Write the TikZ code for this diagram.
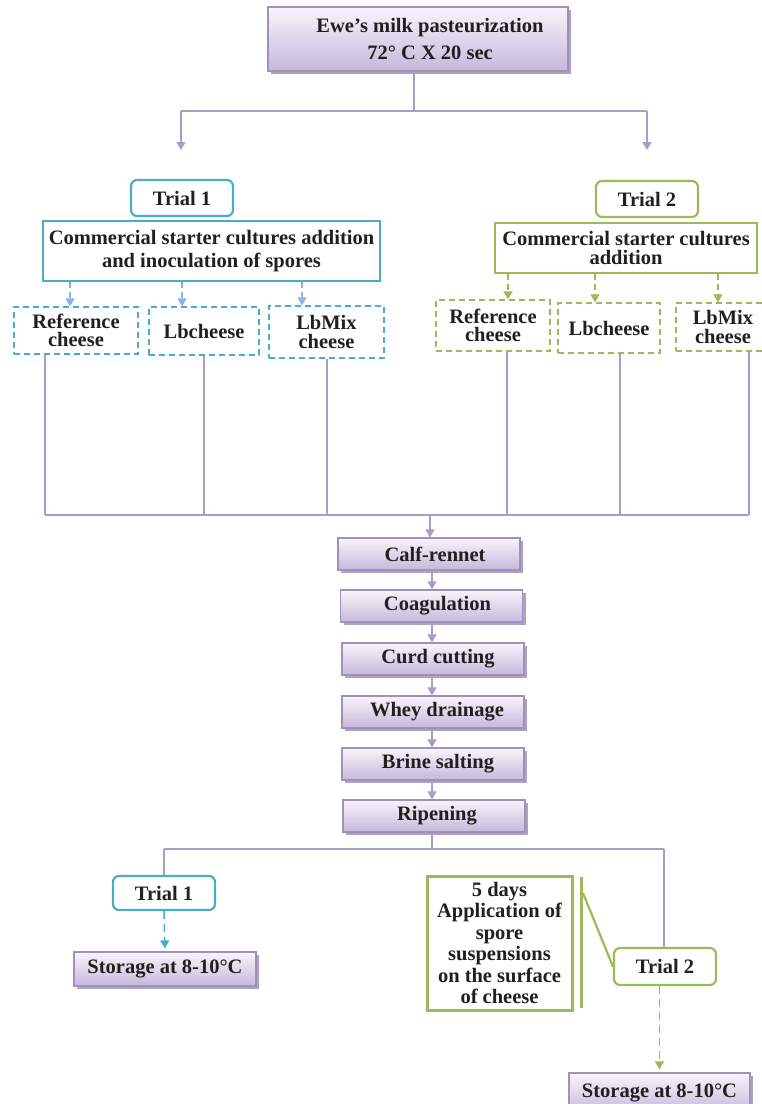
\documentclass[tikz,border=0pt]{standalone}
\usepackage{fontspec}
\setmainfont{Liberation Serif}
\usetikzlibrary{arrows.meta,shadows}
\definecolor{conn}{HTML}{A99CC6}
\definecolor{pborder}{HTML}{9E91BA}
\definecolor{ptop}{HTML}{F8F5FB}
\definecolor{pbot}{HTML}{C6B8DB}
\definecolor{pshadow}{HTML}{ADA3BE}
\definecolor{trteal}{HTML}{4BACC6}
\definecolor{lblue}{HTML}{8EB4E3}
\definecolor{grn}{HTML}{9BBB59}
\definecolor{txt}{HTML}{231F20}
\tikzset{
  fnt/.style={font=\fontsize{20.5}{23}\selectfont\bfseries, text=txt},
  procbox/.style={fnt, draw=pborder, line width=1.2pt, top color=ptop, bottom color=pbot,
    drop shadow={shadow xshift=3pt,shadow yshift=-3pt,fill=pshadow,opacity=1},
    minimum width=182, minimum height=32, inner sep=0, align=center},
  trialA/.style={fnt, draw=trteal, line width=2.2pt, rounded corners=6pt, fill=white,
    minimum width=102, minimum height=36, inner sep=0},
  trialB/.style={trialA, draw=grn},
  cboxA/.style={fnt, draw=trteal, line width=1.2pt, fill=white, align=center, inner sep=0},
  cboxB/.style={cboxA, draw=grn},
  dboxA/.style={fnt, font=\fontsize{20.5}{18.5}\selectfont\bfseries, draw=trteal, dash pattern=on 6pt off 4pt,
    line width=1.3pt, align=center, inner sep=0},
  dboxB/.style={dboxA, draw=grn},
  cline/.style={draw=conn, line width=1.5pt},
  carrow/.style={cline, -{Triangle[width=9pt,length=8pt]}},
  darrA/.style={draw=lblue, line width=1.5pt, dash pattern=on 6pt off 4pt, -{Triangle[width=9pt,length=8pt]}},
  darrT/.style={darrA, draw=trteal, dash pattern=on 8pt off 5pt},
  darrB/.style={darrA, draw=grn},
  darrBB/.style={darrB, dash pattern=on 8pt off 5pt},
}
\begin{document}
\begin{tikzpicture}[x=1pt,y=-1pt]
\useasboundingbox (0,0) rectangle (762,1104);

% top
\node[procbox, font=\fontsize{20.5}{27.5}\selectfont\bfseries, minimum width=300, minimum height=64] (milk) at (418,39)
  {\hspace*{24pt}Ewe's milk pasteurization\\ \hspace*{24pt}72° C X 20 sec};
\coordinate (j0) at (414,111);
\coordinate (jl) at (181,111);
\coordinate (jr) at (647,111);
\coordinate (el) at (181,150);
\coordinate (er) at (647,150);
\draw[cline] (milk.south -| j0) -- (j0);
\draw[cline] (jl) -- (jr);
\draw[carrow] (jl) -- (el);
\draw[carrow] (jr) -- (er);

% trial 1 branch
\node[trialA] (t1) at (182,198) {Trial 1};
\node[cboxA, minimum width=337, minimum height=60] (c1) at (211.5,251)
  {Commercial starter cultures addition\\and inoculation of spores};
\node[dboxA, minimum width=124, minimum height=47] (d11) at (76,330.5) {Reference\\cheese};
\node[dboxA, minimum width=110, minimum height=48] (d12) at (204,331) {Lbcheese};
\node[dboxA, minimum width=115, minimum height=52] (d13) at (326.5,332) {LbMix\\cheese};
\coordinate (x11) at (70,0);
\coordinate (x12) at (182,0);
\coordinate (x13) at (302,0);
\draw[darrA] (c1.south -| x11) -- (d11.north -| x11);
\draw[darrA] (c1.south -| x12) -- (d12.north -| x12);
\draw[darrA] (c1.south -| x13) -- (d13.north -| x13);
\fill[trteal] (c1.south -| x11) circle (1.8pt) (c1.south -| x12) circle (1.8pt) (c1.south -| x13) circle (1.8pt);

% trial 2 branch
\node[trialB] (t2) at (647,199) {Trial 2};
\node[cboxB, font=\fontsize{20.5}{19}\selectfont\bfseries, minimum width=262, minimum height=50] (c2) at (626,248)
  {Commercial starter cultures\\addition};
\node[dboxB, minimum width=114, minimum height=51] (d21) at (493,325.5) {Reference\\cheese};
\node[dboxB, minimum width=102, minimum height=50] (d22) at (609,328) {Lbcheese};
\node[dboxB, minimum width=94, minimum height=48] (d23) at (723,327) {LbMix\\cheese};
\coordinate (x21) at (508,0);
\coordinate (x22) at (595,0);
\coordinate (x23) at (718,0);
\draw[darrB] (c2.south -| x21) -- (d21.north -| x21);
\draw[darrB] (c2.south -| x22) -- (d22.north -| x22);
\draw[darrB] (c2.south -| x23) -- (d23.north -| x23);

% collector
\coordinate (b1) at (45,515);
\coordinate (b2) at (204,515);
\coordinate (b3) at (327,515);
\coordinate (b4) at (507,515);
\coordinate (b5) at (620,515);
\coordinate (b6) at (749,515);
\coordinate (bm) at (430,515);
\draw[cline] (d11.south -| b1) -- (b1);
\draw[cline] (d12.south -| b2) -- (b2);
\draw[cline] (d13.south -| b3) -- (b3);
\draw[cline] (d21.south -| b4) -- (b4);
\draw[cline] (d22.south -| b5) -- (b5);
\draw[cline] (d23.south -| b6) -- (b6);
\draw[cline] (b1) -- (b6);

% process chain
\node[procbox] (calf) at (429,554) {\hspace*{12pt}Calf-rennet};
\node[procbox] (coag) at (431.5,606) {\hspace*{12pt}Coagulation};
\node[procbox] (curd) at (433,659) {\hspace*{10pt}Curd cutting};
\node[procbox] (whey) at (433,712) {\hspace*{8pt}Whey drainage};
\node[procbox] (brine) at (433,764) {\hspace*{10pt}Brine salting};
\node[procbox] (ripe) at (434,816) {\hspace*{6pt}Ripening};
\coordinate (cx) at (432,0);
\draw[carrow] (bm) -- (calf.north -| bm);
\draw[carrow] (calf.south -| cx) -- (coag.north -| cx);
\draw[carrow] (coag.south -| cx) -- (curd.north -| cx);
\draw[carrow] (curd.south -| cx) -- (whey.north -| cx);
\draw[carrow] (whey.south -| cx) -- (brine.north -| cx);
\draw[carrow] (brine.south -| cx) -- (ripe.north -| cx);

% after ripening
\coordinate (r0) at (432,849);
\coordinate (rl) at (164,849);
\coordinate (rr) at (664,849);
\node[trialA, minimum height=34] (t1b) at (164,893) {Trial 1};
\node[trialB, minimum height=37] (t2b) at (665,966.5) {Trial 2};
\draw[cline] (ripe.south -| r0) -- (r0);
\draw[cline] (rl) -- (rr);
\draw[cline] (rl) -- (t1b.north -| rl);
\draw[cline] (rr) -- (t2b.north -| rr);

\node[procbox, minimum height=34] (st1) at (165,969) {Storage at 8-10°C};
\draw[darrT, shorten >=3pt] (t1b.south) -- (st1.north);

\node[fnt, font=\fontsize{20.5}{21.5}\selectfont\bfseries, draw=grn, line width=3pt, fill=white,
  minimum width=145, minimum height=134, inner sep=0, align=center] (days) at (499.5,943)
  {5 days\\Application of\\spore\\suspensions\\on the surface\\of cheese};
\coordinate (bt) at (581,877);
\coordinate (bb) at (581,1008);
\coordinate (bk) at (583,893);
\draw[grn, line width=3pt] (bt) -- (bb);
\draw[grn, line width=2.2pt] (bk) -- (t2b.west);

\node[procbox, minimum width=181, minimum height=40] (st2) at (659.5,1093) {Storage at 8-10°C};
\draw[darrBB, shorten >=3pt] (t2b.south -| st2.north) -- (st2.north);
\end{tikzpicture}
\end{document}
